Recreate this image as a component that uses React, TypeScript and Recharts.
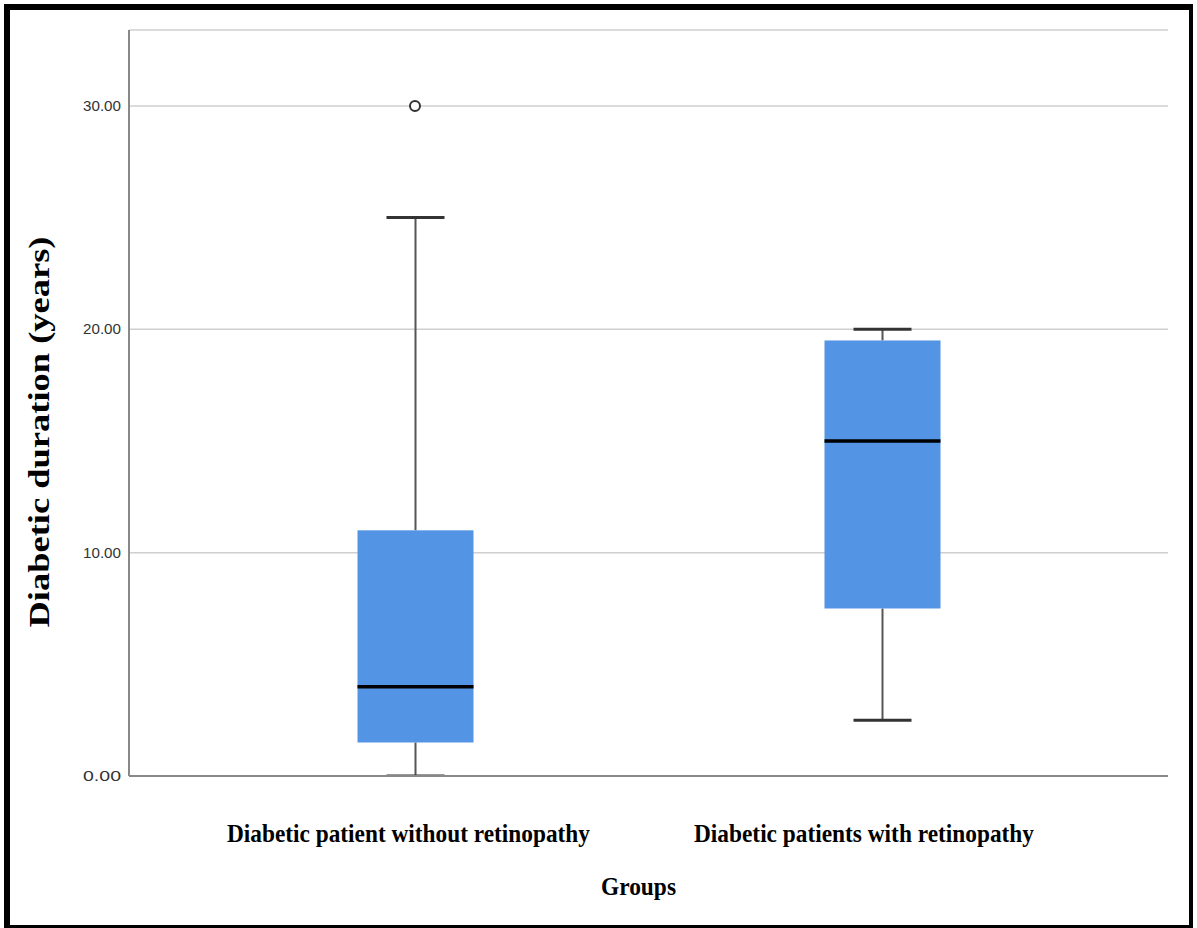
import React from "react"
import { ComposedChart, Bar, Scatter, XAxis, YAxis, CartesianGrid } from "recharts"

const groups = ["Diabetic patient without retinopathy", "Diabetic patients with retinopathy"]
const whiskerLow = [0, 2.5]
const q1 = [1.5, 7.5]
const median = [4, 15]
const q3 = [11, 19.5]
const whiskerHigh = [25, 20]
const outliers: (number | null)[] = [30, null]
const yTicks = [0, 10, 20, 30]

const data = groups.map((g, i) => ({
  group: g,
  range: [whiskerLow[i], whiskerHigh[i]],
  q1: q1[i],
  median: median[i],
  q3: q3[i],
  outlier: outliers[i],
}))

const BOX_COLOR = "#5394e4"
const SERIF = "'Liberation Serif', 'Times New Roman', serif"

function BoxShape(props: any) {
  const { x, y, width, height, payload } = props
  const top = Math.min(y, y + height)
  const bottom = Math.max(y, y + height)
  const lo = payload.range[0]
  const hi = payload.range[1]
  const pos = (v: number) => bottom - ((v - lo) / (hi - lo)) * (bottom - top)
  const cx = x + width / 2
  const capHalf = width / 4
  return (
    <g>
      <line x1={cx} x2={cx} y1={pos(hi)} y2={pos(payload.q3)} stroke="#555" strokeWidth={2} />
      <line x1={cx} x2={cx} y1={pos(payload.q1)} y2={pos(lo)} stroke="#555" strokeWidth={2} />
      <line x1={cx - capHalf} x2={cx + capHalf} y1={pos(hi)} y2={pos(hi)} stroke="#333" strokeWidth={3} />
      <line x1={cx - capHalf} x2={cx + capHalf} y1={pos(lo)} y2={pos(lo)} stroke="#333" strokeWidth={3} />
      <rect x={x} y={pos(payload.q3)} width={width} height={pos(payload.q1) - pos(payload.q3)} fill={BOX_COLOR} />
      <line x1={x} x2={x + width} y1={pos(payload.median)} y2={pos(payload.median)} stroke="#000" strokeWidth={3.5} />
    </g>
  )
}

function OutlierShape(props: any) {
  const { cx, cy } = props
  if (cy == null || isNaN(cy)) return <g />
  return <circle cx={cx} cy={cy} r={5} fill="#fff" stroke="#333" strokeWidth={2} />
}

function CategoryTick(props: any) {
  const { x, y, payload, index } = props
  const lengths = [363, 340]
  const shifts = [-6.5, -18]
  return (
    <text
      x={x + (shifts[index] ?? 0)}
      y={y + 58}
      textAnchor="middle"
      fontFamily={SERIF}
      fontWeight="bold"
      fontSize={26}
      fill="#000"
      textLength={lengths[index] ?? 350}
      lengthAdjust="spacingAndGlyphs"
    >
      {payload.value}
    </text>
  )
}

function ValueTick(props: any) {
  const { x, y, payload } = props
  return (
    <text x={x} y={y + 5} textAnchor="end" fontFamily="'Liberation Sans', Arial, sans-serif" fontSize={15} fill="#333" textLength={38} lengthAdjust="spacingAndGlyphs">
      {Number(payload.value).toFixed(2)}
    </text>
  )
}

export default function App() {
  return (
    <div style={{ position: "absolute", left: 0, top: 0, width: 1197, height: 928, background: "#fff" }}>
      <div
        style={{
          position: "absolute",
          left: 4,
          top: 4,
          width: 1189,
          height: 924,
          boxSizing: "border-box",
          borderStyle: "solid",
          borderColor: "#000",
          borderWidth: "6px 4px 3px 6px",
        }}
      />
      <div style={{ position: "absolute", left: 0, top: 0 }}>
        <ComposedChart width={1197} height={928} data={data} margin={{ top: 30, right: 29, left: 0, bottom: 0 }}>
          <CartesianGrid vertical={false} stroke="#cfcfcf" strokeWidth={1.5} />
          <XAxis
            dataKey="group"
            type="category"
            height={152}
            padding={{ left: 52.5, right: 52.5 }}
            stroke="#888"
            strokeWidth={2}
            tickLine={false}
            tick={<CategoryTick />}
            label={{
              content: (p: any) => {
                const vb = p.viewBox
                return (
                  <text
                    x={vb.x + vb.width / 2 - 10}
                    y={vb.y + 119}
                    textAnchor="middle"
                    fontFamily={SERIF}
                    fontWeight="bold"
                    fontSize={26}
                    textLength={75}
                    lengthAdjust="spacingAndGlyphs"
                  >
                    Groups
                  </text>
                )
              },
            }}
          />
          <YAxis
            type="number"
            domain={[0, 33.4]}
            ticks={yTicks}
            allowDataOverflow
            width={129}
            stroke="#888"
            strokeWidth={2}
            tickLine={false}
            tick={<ValueTick />}
            label={{
              content: (p: any) => {
                const vb = p.viewBox
                const cx = vb.x + 49
                const cy = vb.y + vb.height / 2 + 29
                return (
                  <text
                    x={cx}
                    y={cy}
                    transform={`rotate(-90, ${cx}, ${cy})`}
                    textAnchor="middle"
                    fontFamily={SERIF}
                    fontWeight="bold"
                    fontSize={30}
                    textLength={391}
                    lengthAdjust="spacingAndGlyphs"
                  >
                    Diabetic duration (years)
                  </text>
                )
              },
            }}
          />
          <Bar dataKey="range" barSize={116} shape={<BoxShape />} isAnimationActive={false} />
          <Scatter dataKey="outlier" shape={<OutlierShape />} isAnimationActive={false} />
        </ComposedChart>
      </div>
    </div>
  )
}
